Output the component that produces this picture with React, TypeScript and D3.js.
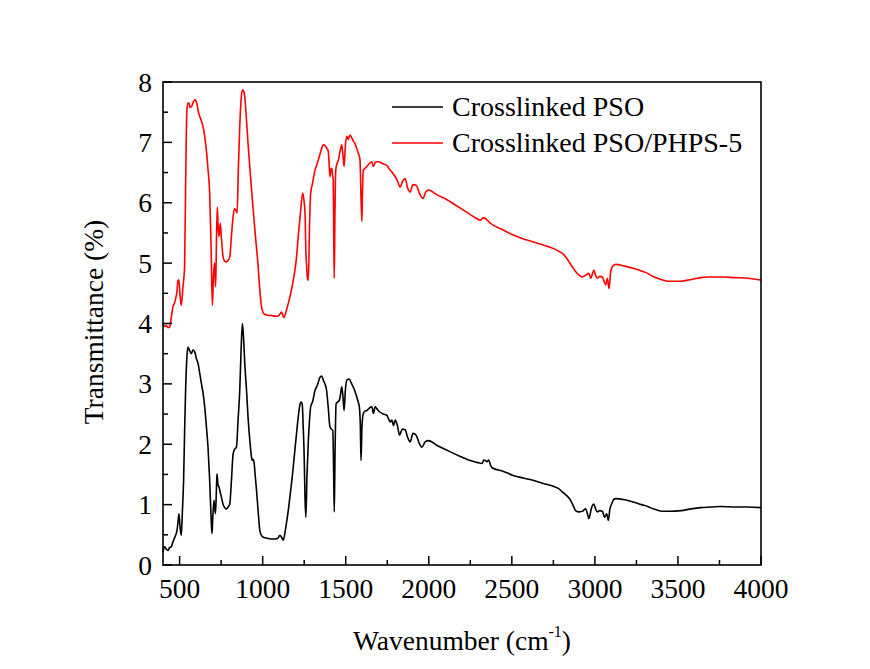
import React from "react";
import * as d3 from "d3";

const xTicks = [500, 1000, 1500, 2000, 2500, 3000, 3500, 4000];
const yTicks = [0, 1, 2, 3, 4, 5, 6, 7, 8];
const seriesNames = ["Crosslinked PSO", "Crosslinked PSO/PHPS-5"];
const seriesColors = ["#000000", "#ff0000"];

const psoData: [number, number][] = [
  [400,0.21],[405,0.28],[410,0.30],[420,0.26],[430,0.24],[440,0.29],[450,0.30],[457,0.36],[464,0.41],[474,0.48],[484,0.57],[490,0.70],[496,0.85],[503,0.62],[510,0.49],[517,0.90],[524,1.40],[530,2.20],[536,2.89],[543,3.40],[550,3.61],[560,3.55],[571,3.50],[580,3.56],[591,3.53],[601,3.42],[611,3.34],[621,3.18],[631,3.01],[641,2.85],[651,2.62],[661,2.30],[671,1.95],[681,1.40],[690,0.75],[695,0.52],[700,0.80],[707,1.07],[711,0.95],[716,0.85],[721,1.20],[725,1.51],[731,1.33],[737,1.29],[745,1.20],[752,1.12],[762,1.00],[772,0.95],[782,0.93],[792,0.96],[802,1.01],[812,1.40],[822,1.84],[832,1.92],[842,1.95],[852,2.40],[862,2.89],[870,3.55],[878,4.0],[885,3.75],[893,3.30],[903,2.89],[913,2.40],[923,2.06],[930,1.85],[937,1.73],[943,1.75],[949,1.68],[956,1.45],[963,1.24],[973,0.88],[983,0.57],[993,0.49],[1003,0.46],[1033,0.44],[1063,0.43],[1090,0.44],[1104,0.49],[1114,0.46],[1124,0.41],[1139,0.62],[1154,0.90],[1167,1.20],[1180,1.51],[1192,1.85],[1204,2.18],[1214,2.45],[1224,2.65],[1231,2.70],[1238,2.67],[1244,2.30],[1250,1.79],[1255,1.10],[1260,0.79],[1267,1.50],[1275,2.06],[1282,2.40],[1289,2.62],[1300,2.70],[1315,2.89],[1330,2.98],[1345,3.11],[1355,3.13],[1365,3.06],[1375,3.00],[1385,2.89],[1395,2.60],[1405,2.29],[1414,2.25],[1422,2.23],[1427,1.60],[1431,0.88],[1436,1.90],[1442,2.67],[1452,2.70],[1462,2.73],[1470,2.85],[1476,2.95],[1483,2.80],[1490,2.56],[1498,2.90],[1506,3.06],[1520,3.08],[1536,3.00],[1550,2.92],[1567,2.78],[1575,2.70],[1582,2.62],[1588,2.30],[1592,1.73],[1598,2.30],[1606,2.51],[1616,2.55],[1627,2.56],[1642,2.60],[1657,2.62],[1667,2.51],[1677,2.62],[1687,2.59],[1707,2.53],[1727,2.50],[1747,2.48],[1758,2.42],[1768,2.37],[1778,2.40],[1788,2.31],[1798,2.40],[1812,2.30],[1824,2.15],[1840,2.25],[1858,2.24],[1872,2.12],[1888,2.04],[1905,2.18],[1924,2.15],[1942,2.02],[1959,1.95],[1978,2.04],[1999,2.06],[2050,1.98],[2110,1.90],[2180,1.81],[2250,1.73],[2290,1.70],[2321,1.68],[2331,1.74],[2341,1.73],[2351,1.71],[2361,1.74],[2371,1.66],[2381,1.61],[2450,1.55],[2512,1.48],[2570,1.44],[2632,1.40],[2690,1.35],[2753,1.30],[2780,1.27],[2804,1.21],[2830,1.15],[2854,1.07],[2870,0.98],[2884,0.90],[2900,0.88],[2924,0.89],[2944,0.93],[2955,0.85],[2964,0.77],[2980,0.95],[2994,1.01],[3005,0.92],[3015,0.88],[3030,0.90],[3045,0.89],[3059,0.79],[3071,0.85],[3081,0.74],[3090,0.92],[3101,1.01],[3112,1.08],[3125,1.10],[3180,1.08],[3236,1.04],[3280,1.00],[3317,0.97],[3350,0.93],[3387,0.90],[3420,0.89],[3448,0.89],[3518,0.90],[3580,0.93],[3638,0.95],[3700,0.96],[3759,0.97],[3840,0.96],[3920,0.96],[4000,0.95]
];

const phpsData: [number, number][] = [
  [400,4.0],[410,3.95],[420,3.97],[430,3.93],[440,3.94],[450,4.10],[460,4.28],[468,4.33],[475,4.40],[485,4.55],[490,4.72],[496,4.72],[503,4.45],[510,4.30],[520,4.60],[530,4.94],[537,6.50],[544,7.54],[550,7.65],[556,7.65],[563,7.58],[571,7.59],[580,7.65],[590,7.70],[597,7.70],[605,7.62],[613,7.50],[621,7.43],[631,7.36],[641,7.26],[651,7.10],[661,6.87],[671,6.55],[681,6.16],[690,5.20],[697,4.30],[704,4.80],[711,5.00],[714,4.75],[717,4.61],[722,5.40],[727,5.93],[732,5.60],[737,5.44],[745,5.66],[752,5.40],[762,5.10],[772,5.03],[782,5.02],[792,5.05],[802,5.10],[812,5.45],[822,5.77],[830,5.90],[838,5.88],[846,5.83],[854,6.60],[862,7.26],[870,7.70],[878,7.87],[885,7.85],[892,7.76],[902,7.40],[912,6.98],[928,6.40],[943,5.88],[958,5.40],[973,4.94],[983,4.55],[993,4.28],[1008,4.16],[1023,4.14],[1054,4.13],[1084,4.12],[1100,4.14],[1114,4.19],[1121,4.14],[1128,4.10],[1146,4.25],[1164,4.44],[1180,4.65],[1194,4.88],[1204,5.10],[1214,5.44],[1228,5.85],[1241,6.16],[1248,6.05],[1255,5.83],[1260,5.20],[1265,4.94],[1270,4.72],[1275,4.72],[1282,5.60],[1289,6.16],[1300,6.32],[1315,6.54],[1325,6.62],[1335,6.71],[1350,6.85],[1365,6.96],[1380,6.93],[1395,6.85],[1400,6.65],[1405,6.43],[1410,6.55],[1416,6.57],[1421,6.45],[1425,6.38],[1428,5.40],[1431,4.75],[1435,5.80],[1440,6.54],[1448,6.65],[1456,6.71],[1466,6.85],[1476,6.96],[1483,6.80],[1490,6.60],[1498,6.95],[1506,7.10],[1515,7.05],[1525,7.12],[1536,7.08],[1546,7.02],[1556,6.98],[1566,6.90],[1576,6.82],[1586,6.71],[1591,6.20],[1597,5.69],[1601,6.20],[1606,6.54],[1616,6.57],[1627,6.60],[1642,6.65],[1657,6.68],[1667,6.60],[1680,6.68],[1697,6.68],[1720,6.65],[1747,6.62],[1757,6.58],[1768,6.54],[1780,6.50],[1798,6.43],[1812,6.36],[1828,6.26],[1843,6.36],[1858,6.40],[1872,6.25],[1888,6.18],[1905,6.30],[1924,6.29],[1945,6.15],[1965,6.07],[1982,6.18],[1999,6.21],[2050,6.13],[2110,6.05],[2150,5.98],[2190,5.91],[2230,5.84],[2270,5.77],[2311,5.71],[2326,5.75],[2341,5.74],[2356,5.70],[2371,5.66],[2440,5.56],[2512,5.46],[2570,5.40],[2632,5.35],[2690,5.30],[2753,5.24],[2780,5.20],[2804,5.16],[2825,5.10],[2844,5.02],[2864,4.94],[2884,4.86],[2904,4.80],[2924,4.77],[2944,4.80],[2964,4.83],[2975,4.75],[2994,4.88],[3004,4.80],[3015,4.75],[3030,4.78],[3045,4.77],[3055,4.70],[3065,4.64],[3075,4.75],[3085,4.58],[3095,4.85],[3105,4.94],[3125,4.98],[3180,4.95],[3236,4.91],[3280,4.87],[3317,4.83],[3350,4.78],[3377,4.75],[3410,4.72],[3437,4.70],[3470,4.70],[3518,4.70],[3580,4.73],[3638,4.76],[3680,4.77],[3719,4.77],[3780,4.77],[3839,4.76],[3920,4.75],[4000,4.72]
];

const W = 870;
const H = 669;
const L = 163;
const R = 761;
const T = 82;
const B = 565;
const FONT = "'Liberation Serif', 'Times New Roman', serif";

export default function App() {
  const x = d3.scaleLinear().domain([400, 4000]).range([L, R]);
  const y = d3.scaleLinear().domain([0, 8]).range([B, T]);
  const line = d3
    .line<[number, number]>()
    .x((d) => x(d[0]))
    .y((d) => y(d[1]))
    .curve(d3.curveMonotoneX);

  const xMinor = d3.range(750, 4000, 500);
  const yMinor = d3.range(0.5, 8, 1);
  const series = [psoData, phpsData];

  return (
    <svg
      width={W}
      height={H}
      style={{ position: "absolute", left: 0, top: 0, display: "block", background: "#fff" }}
      fontFamily={FONT}
    >
      <rect x={0} y={0} width={W} height={H} fill="#fff" />
      {series.map((s, i) => (
        <path
          key={i}
          d={line(s) || ""}
          fill="none"
          stroke={seriesColors[i]}
          strokeWidth={1.6}
          strokeLinejoin="round"
        />
      ))}
      <rect x={L} y={T} width={R - L} height={B - T} fill="none" stroke="#000" strokeWidth={1.6} />
      {xTicks.map((t) => (
        <g key={"xt" + t}>
          <line x1={x(t)} x2={x(t)} y1={B} y2={B - 9} stroke="#000" strokeWidth={1.5} />
          <text x={x(t)} y={598} textAnchor="middle" fontSize={27.5} fill="#000">
            {t}
          </text>
        </g>
      ))}
      {xMinor.map((t) => (
        <line key={"xm" + t} x1={x(t)} x2={x(t)} y1={B} y2={B - 5} stroke="#000" strokeWidth={1.5} />
      ))}
      {yTicks.map((t) => (
        <g key={"yt" + t}>
          <line x1={L} x2={L + 9} y1={y(t)} y2={y(t)} stroke="#000" strokeWidth={1.5} />
          <text x={152} y={y(t)} textAnchor="end" dominantBaseline="central" fontSize={27.5} fill="#000">
            {t}
          </text>
        </g>
      ))}
      {yMinor.map((t) => (
        <line key={"ym" + t} x1={L} x2={L + 5} y1={y(t)} y2={y(t)} stroke="#000" strokeWidth={1.5} />
      ))}
      <text
        transform={`translate(93,322) rotate(-90)`}
        textAnchor="middle"
        dominantBaseline="central"
        fontSize={27.5}
        fill="#000"
      >
        Transmittance (%)
      </text>
      <text x={462} y={650} textAnchor="middle" fontSize={27.5} fill="#000">
        Wavenumber (cm
        <tspan fontSize={16} dy={-13}>-1</tspan>
        <tspan dy={13}>)</tspan>
      </text>
      {seriesNames.map((n, i) => (
        <g key={"lg" + i}>
          <line
            x1={392}
            x2={443}
            y1={107 + i * 36}
            y2={107 + i * 36}
            stroke={seriesColors[i]}
            strokeWidth={1.6}
          />
          <text x={452} y={116 + i * 36} fontSize={28} fill="#000">
            {n}
          </text>
        </g>
      ))}
    </svg>
  );
}
